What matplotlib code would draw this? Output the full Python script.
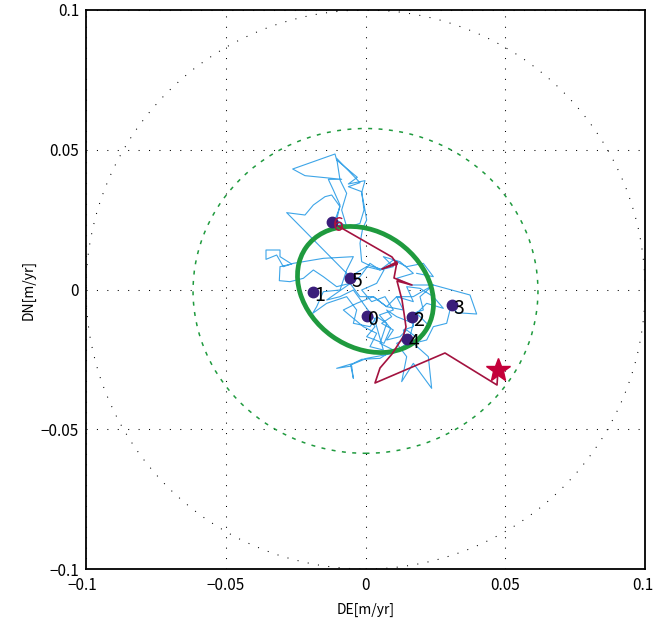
import numpy as np
import matplotlib
matplotlib.use("Agg")
import matplotlib.pyplot as plt
import matplotlib.transforms as mtransforms
from matplotlib.patches import Ellipse, Circle

plt.rcParams['font.family'] = ['Noto Sans CJK JP', 'DejaVu Sans']

# Velocity random walk (mm/yr)
walk_de_mm = [-0.06, 3.40, 0.42, 6.62, 9.00, 4.95, 9.96, 6.98, 2.21, -1.37, 4.00, 6.62, 1.85, -1.37,
              -1.97, -1.01, 0.42, -0.42, -1.37, -0.18, -6.14, -2.92, -10.32, -10.91, -26.06, -21.65,
              -8.53, -13.30, -11.51, -9.12, -10.32, -6.74, -8.53, -6.74, -9.12, -10.32, -1.97, -6.14,
              -1.37, -0.54, -1.97, -5.55, -11.27, -9.12, -12.10, -14.49, -18.66, -21.65, -28.20,
              -5.55, 0.42, 5.19, 9.96, 6.38, 12.34, 17.11, 11.15, 15.92, 24.27, 17.11, 11.15, 7.57,
              2.80, -1.97, -5.55, -10.32, -15.09, -18.66, -22.24, -27.01, -30.83, -30.59, -26.42,
              -30.59, -30.59, -35.60, -35.60, -31.78, -29.40, -25.82, -15.09, -4.35, -6.74, -9.12,
              -15.09, -17.47, -18.90, -13.89, -6.74, -3.16, -4.35, 1.61, 4.00, 7.57, 5.19, 9.96,
              5.19, -1.37, -4.35, -10.32, -4.95, -4.35, -5.31, 0.42, 9.96, 14.73, 13.54, 17.11,
              17.11, 20.69, 19.50, 24.27, 37.39, 39.77, 32.62, 30.83, 29.04, 24.27, 21.88, 17.11,
              22.48, 23.67, 17.11, 12.94, 14.73, 11.15, 15.92, 17.11, 11.15, 7.57,
              9.36, 5.78, 9.96, 7.57, 12.34, 14.73, 19.50, 23.08, 18.31, 21.88, 27.85, 24.27,
              19.50, 14.73, 17.11, 11.15, 13.54, 7.57, 2.80, -3.16, -7.93, -0.78, 4.00, 1.61,
              6.38, 3.20, -4.35, -9.12, -13.89, -1.97, 1.61, 5.19, 9.96, 14.73, 20.69, 24.27, 18.31]
walk_dn_mm = [-8.77, -13.30, -16.88, -19.26, -13.89, -9.12, -7.33, -2.56, -4.35, -0.18, 2.21, 6.98,
              8.41, 9.96, 16.52, 21.88, 24.87, 29.64, 34.65, 38.94, 37.75, 40.13, 46.33, 48.48,
              43.11, 40.73, 39.42, 39.42, 35.60, 30.23, 24.87, 22.48, 28.44, 34.41, 39.18, 46.93,
              38.22, 36.79, 35.00, 28.44, 23.67, 22.48, 23.91, 29.64, 33.81, 33.21, 30.23, 26.65,
              27.49, 4.59, 8.17, 6.98, 8.17, 11.75, 9.96, 5.78, 4.00, 1.61, 1.61, -2.56, -2.56,
              -6.14, -2.56, -2.56, 2.21, 1.01, 4.59, 6.98, 4.00, 2.80, 3.16, 8.17, 9.12, 11.75,
              14.13, 14.13, 10.79, 12.34, 8.17, 9.36, 11.15, 11.75, 6.98, -0.18, -0.78, -6.14,
              -8.53, -4.95, -2.56, -7.33, -12.10, -13.30, -9.72, -12.10, -19.26, -21.65, -24.63,
              -24.98, -26.42, -28.20, -27.37, -31.78, -27.01, -24.63, -22.84, -19.26, -14.49,
              -13.30, -8.53, -7.33, -2.56, 1.61, -1.97, -8.77, -8.29, -4.95, -12.10, -13.30,
              -18.07, -19.26, -24.03, -35.36, -26.42, -32.97, -24.03, -19.26, -16.88, -12.10,
              -9.72, -7.33,
              -9.72, -12.10, -14.49, -18.07, -16.88, -14.49, -18.07, -13.30, -8.53, -4.95, -6.74,
              -2.56, 0.42, 1.01, -4.35, -2.56, -7.33, -6.14, -2.56, -4.95, -7.33, -13.30, -15.68,
              -20.45, -21.65, -10.50, -0.18, -2.56, -3.76, 4.59, 9.36, 6.98, 10.55, 8.17, 9.36,
              4.59, 5.78]

# Observed track (mm/yr), ending at the star
track_de_mm = [-11.52, 9.48, 11.27, 5.90, 11.27, 10.20, 16.64, 11.27, 13.06, 13.77, 14.49, 13.42,
               9.48, 5.19, 3.40, 28.44, 47.05, 47.41]
track_dn_mm = [23.69, 11.63, 9.12, 7.33, 9.84, 4.11, 1.61, 3.04, -3.76, -8.41, -13.42, -16.99,
               -23.08, -28.09, -33.45, -22.72, -34.17, -28.80]

# Numbered reference points (mm/yr)
point_labels = ['0', '1', '2', '3', '4', '5', '6']
point_de_mm = [0.43, -18.89, 16.53, 30.84, 14.96, -5.55, -12.09]
point_dn_mm = [-9.48, -1.00, -9.95, -5.55, -17.82, 4.22, 24.26]

star_de_mm = 47.41
star_dn_mm = -28.80

# Error ellipses (m/yr)
inner_width, inner_height, inner_angle = 0.0521, 0.0411, -35.5
outer_width, outer_height, outer_center = 0.1234, 0.1162, (0.0, -0.0005)
ref_radius = 0.1

ticks = [-0.1, -0.05, 0, 0.05, 0.1]
tick_labels = ['\u22120.1', '\u22120.05', '0', '0.05', '0.1']

mm = 1e-3
walk_de = np.array(walk_de_mm) * mm
walk_dn = np.array(walk_dn_mm) * mm
track_de = np.array(track_de_mm) * mm
track_dn = np.array(track_dn_mm) * mm
point_de = np.array(point_de_mm) * mm
point_dn = np.array(point_dn_mm) * mm

fig = plt.figure(figsize=(6.53, 6.19), dpi=100)
ax = fig.add_axes([86 / 653, 50 / 619, 559 / 653, 559 / 619])

dotted = (0, (1, 9))
ax.set_xlim(-0.1, 0.1)
ax.set_ylim(-0.1, 0.1)
ax.set_xticks(ticks)
ax.set_yticks(ticks)
ax.set_xticklabels(tick_labels, fontsize=11)
ax.set_yticklabels(tick_labels, fontsize=11)
ax.tick_params(axis='y', length=0, pad=5)
ax.tick_params(axis='x', length=0, pad=6)
ax.grid(True, linestyle=dotted, color='black', linewidth=0.75)
ax.set_axisbelow(True)
for sp in ax.spines.values():
    sp.set_linewidth(1.3)

# keep the outermost x tick labels inside the figure
xt = ax.get_xticklabels()
xt[-1].set_horizontalalignment('right')
xt[-1].set_transform(xt[-1].get_transform() +
                     mtransforms.ScaledTranslation(6 / 72, 0, fig.dpi_scale_trans))
xt[0].set_transform(xt[0].get_transform() +
                    mtransforms.ScaledTranslation(-3 / 72, 0, fig.dpi_scale_trans))

ax.add_patch(Circle((0, 0), ref_radius, fill=False, edgecolor='black',
                    linestyle=dotted, linewidth=0.75, zorder=1))
ax.add_patch(Ellipse(outer_center, outer_width, outer_height, fill=False,
                     edgecolor='#1f9a3e', linestyle=(0, (2.6, 4.2)), linewidth=1.1, zorder=1))

ax.plot(walk_de, walk_dn, color='#3da5e8', linewidth=0.8, zorder=2)
ax.add_patch(Ellipse((0, 0), inner_width, inner_height, angle=inner_angle, fill=False,
                     edgecolor='#1f9a3e', linewidth=3.4, zorder=3))
ax.plot(track_de, track_dn, color='#a3123f', linewidth=1.2, zorder=4)
ax.plot(point_de, point_dn, 'o', color='#3a1d7a', markersize=7.5, zorder=5)

for lab, x, y in zip(point_labels, point_de, point_dn):
    col = '#b0103e' if lab == '6' else 'black'
    ax.annotate(lab, (x, y), xytext=(1.0, -2.5), textcoords='offset points',
                ha='left', va='center', fontsize=14, color=col, zorder=6)

ax.plot([star_de_mm * mm], [star_dn_mm * mm], marker='*', color='#c4003a',
        markersize=18, linestyle='none', zorder=7)

ax.set_xlabel('DE[m/yr]', fontsize=10, labelpad=6)
ax.set_ylabel('DN[m/yr]', fontsize=10, labelpad=4)

fig.savefig('out.png', dpi=100)
